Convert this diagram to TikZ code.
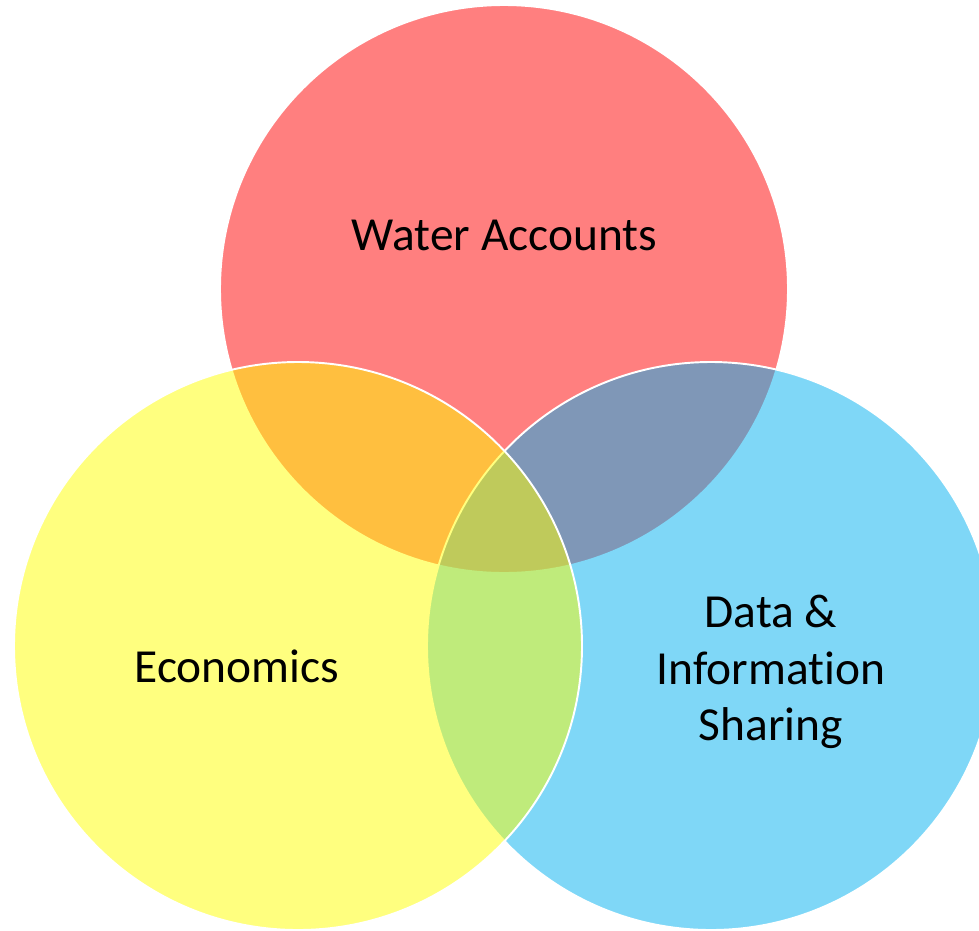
\documentclass[tikz,border=0pt]{standalone}
\usepackage{fontspec}
\setmainfont{Carlito}[Ligatures=NoCommon]
\definecolor{vennred}{RGB}{255,0,0}
\definecolor{vennblue}{RGB}{0,176,240}
\definecolor{vennyellow}{RGB}{255,255,0}

\begin{document}
\begin{tikzpicture}[x=0.02cm, y=-0.02cm]
\tikzstyle{circset}=[fill opacity=0.5, draw=white, line width=1.1pt]
\tikzstyle{labelt}=[font=\fontsize{27}{32.3}\selectfont, text=black, inner sep=0pt, align=center]

\useasboundingbox (0,0) rectangle (979,930);
\clip (0,0) rectangle (979,930);

\path[circset, fill=vennred] (504,289) circle (284);
\path[circset, fill=vennblue] (711,646) circle (284);
\path[circset, fill=vennyellow] (298,646) circle (284);

\node[labelt, anchor=base] (Lwater) at (504.5,250) {Water Accounts};
\node[labelt, anchor=base] (Lecon) at (237,682) {Economics};
\node[labelt] (Ldata) at (771,672) {Data \&\\Information\\Sharing};
\end{tikzpicture}
\end{document}
